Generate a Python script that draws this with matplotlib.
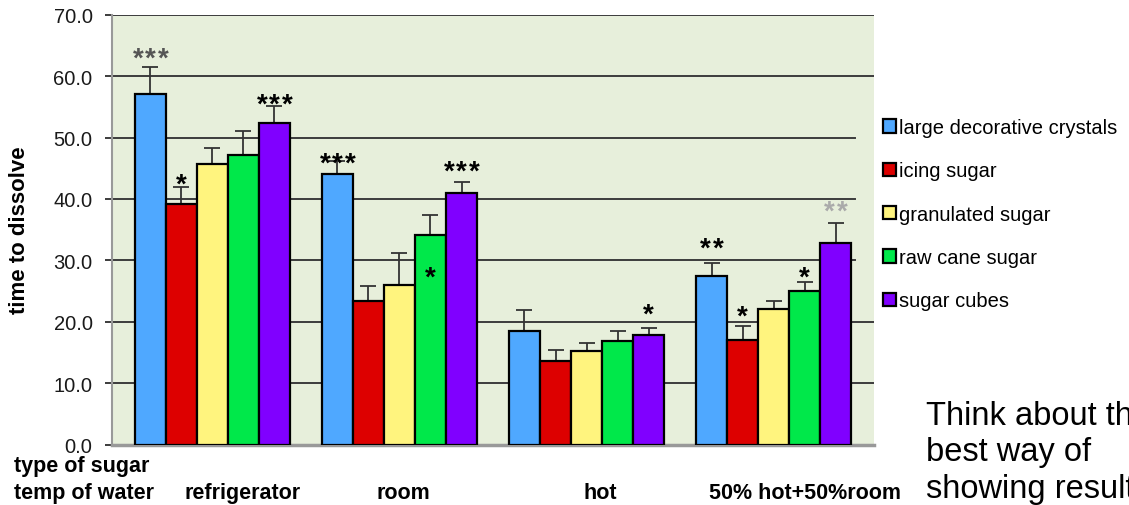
import numpy as np
import matplotlib.pyplot as plt
from matplotlib.transforms import blended_transform_factory

plt.rcParams['font.family'] = ['Liberation Sans', 'DejaVu Sans']

temps = ['refrigerator', 'room', 'hot', '50% hot+50%room']
sugars = ['large decorative crystals', 'icing sugar', 'granulated sugar',
          'raw cane sugar', 'sugar cubes']
colors = ['#4fa8ff', '#dd0000', '#fff47e', '#00e84a', '#8000ff']

# mean time to dissolve, one list per sugar type (refrigerator, room, hot, mix)
crystals = [57.1, 44.1, 18.5, 27.4]
icing = [39.2, 23.3, 13.6, 17.1]
granulated = [45.7, 25.9, 15.3, 22.0]
raw_cane = [47.1, 34.1, 16.9, 25.0]
cubes = [52.3, 41.0, 17.9, 32.8]

# upper error bar lengths
crystals_err = [4.4, 2.0, 3.4, 2.2]
icing_err = [2.7, 2.5, 1.8, 2.2]
granulated_err = [2.6, 5.3, 1.3, 1.3]
raw_cane_err = [4.0, 3.2, 1.6, 1.5]
cubes_err = [2.9, 1.8, 1.0, 3.2]

values = [crystals, icing, granulated, raw_cane, cubes]
errors = [crystals_err, icing_err, granulated_err, raw_cane_err, cubes_err]

# significance marks: (sugar index, temp index, number of stars, height, colour)
stars = [(0, 0, 3, 64.0, '#555555'), (1, 0, 1, 43.4, 'black'),
         (4, 0, 3, 56.4, 'black'), (0, 1, 3, 46.8, 'black'),
         (3, 1, 1, 28.3, 'black'), (4, 1, 3, 45.5, 'black'),
         (4, 2, 1, 22.2, 'black'), (0, 3, 2, 33.1, 'black'),
         (1, 3, 1, 22.0, 'black'), (3, 3, 1, 28.3, 'black'),
         (4, 3, 2, 39.0, '#aaaaaa')]

W, H = 1129, 506
fig = plt.figure(figsize=(W / 100, H / 100), dpi=100)
ax = fig.add_axes([112 / W, 1 - 445.5 / H, 762 / W, 429.8 / H])
ax.set_facecolor('#e7efdb')

# horizontal grid; a few lines stop short of the right edge
for yv in range(10, 71, 10):
    xmax = 0.975 if yv in (30, 40, 50) else 1.0
    ax.axhline(yv, xmax=xmax, color='#3c3c3c', lw=1.4, zorder=1)

x = np.arange(len(temps))
w = 0.1658
bars = []
for j, (vals, errs) in enumerate(zip(values, errors)):
    xs = x + (j - 2) * w
    b = ax.bar(xs, vals, width=w, color=colors[j], edgecolor='black',
               linewidth=1.6, zorder=3, label=sugars[j])
    bars.append(b)
    ax.errorbar(xs, vals, yerr=[np.zeros(len(errs)), errs], fmt='none',
                ecolor='#333333', elinewidth=1.3, capsize=5.5, capthick=1.3,
                zorder=2)

# each asterisk placed on its own so they sit apart like the originals
for j, i, n, yv, col in stars:
    for k in range(n):
        dx = (k - (n - 1) / 2) * 9.0
        ax.annotate('*', (x[i] + (j - 2) * w, yv), xytext=(dx, -10),
                    textcoords='offset points', ha='center', va='baseline',
                    fontsize=20, fontweight='bold', color=col, zorder=5)

ax.set_xlim(-0.537, 3.537)
ax.set_ylim(0, 70)
ax.set_yticks(np.arange(0, 71, 10))
ax.set_yticklabels([f'{v:.1f}' for v in np.arange(0, 71, 10)], fontsize=14.5,
                   color='#1a1a1a')
ax.tick_params(axis='y', length=5, width=1.4, color='#3c3c3c', pad=9)
ax.set_xticks([])
for s in ['top', 'right']:
    ax.spines[s].set_visible(False)
ax.spines['left'].set_color('#999999')
ax.spines['left'].set_linewidth(1.5)
ax.spines['bottom'].set_color('#999999')
ax.spines['bottom'].set_linewidth(2.5)

# category labels under the groups
shifts = [0.16, 0.02, 0.075, 0.166]
trans = blended_transform_factory(ax.transData, fig.transFigure)
for i, lab in enumerate(temps):
    ax.text(x[i] + shifts[i], 1 - 494 / H, lab, transform=trans, ha='center',
            va='center', fontsize=15.5, fontweight='bold')

fig.text(14 / W, 1 - 467 / H, 'type of sugar', ha='left', va='center',
         fontsize=15.5, fontweight='bold')
fig.text(14 / W, 1 - 494 / H, 'temp of water', ha='left', va='center',
         fontsize=15.5, fontweight='bold')
fig.text(20 / W, 1 - 230 / H, 'time to dissolve', rotation=90, ha='center',
         va='center', fontsize=16, fontweight='bold')

fig.legend(handles=bars, loc='upper left', bbox_to_anchor=(883 / W, 1 - 119 / H),
           frameon=False, fontsize=14.5, handlelength=0.65, handleheight=0.65,
           handletextpad=0.15, labelspacing=1.21, borderpad=0, borderaxespad=0)

fig.text(926 / W, 1 - 453 / H, 'Think about the\nbest way of\nshowing results',
         ha='left', va='center', fontsize=23.5, linespacing=1.22)

fig.savefig('out.png', dpi=100)
